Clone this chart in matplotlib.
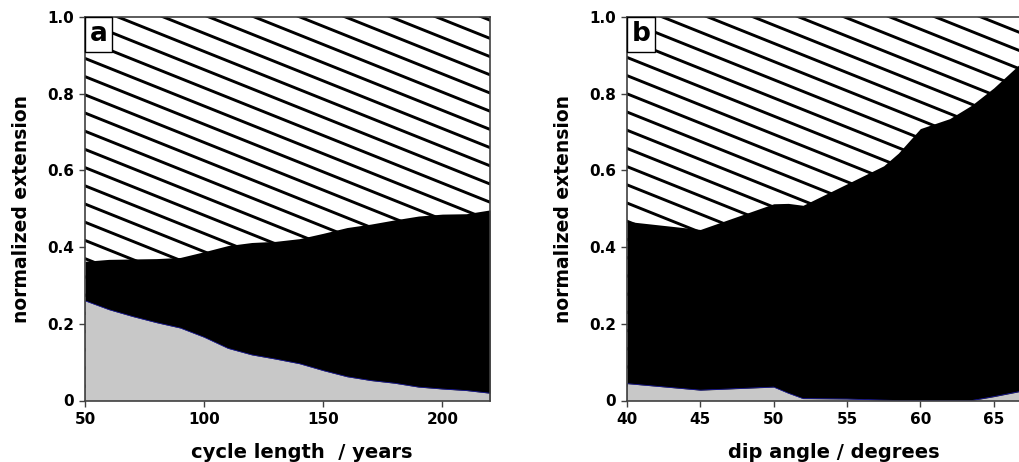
import numpy as np
import matplotlib
matplotlib.use("Agg")
import matplotlib.pyplot as plt
from matplotlib.collections import LineCollection

# Panel a: extension fractions versus cycle length
cycle_length = [50, 60, 70, 80, 90, 100, 110, 120, 130, 140, 150,
                160, 170, 180, 190, 200, 210, 220]
upper_a = [0.363, 0.368, 0.369, 0.370, 0.373, 0.388, 0.404, 0.412, 0.415,
           0.422, 0.436, 0.451, 0.460, 0.471, 0.481, 0.486, 0.487, 0.497]
lower_a = [0.260, 0.237, 0.219, 0.203, 0.189, 0.165, 0.136, 0.119, 0.108,
           0.096, 0.078, 0.062, 0.052, 0.045, 0.035, 0.030, 0.026, 0.019]

# Panel b: extension fractions versus dip angle
dip_angle = [40, 45, 50, 51, 52, 55, 57.5, 58.5, 60, 62, 63.5, 65, 67]
upper_b = [0.467, 0.446, 0.513, 0.514, 0.509, 0.565, 0.612, 0.645, 0.709,
           0.735, 0.770, 0.815, 0.885]
lower_b = [0.044, 0.027, 0.035, 0.019, 0.005, 0.004, 0.001, 0.0, 0.0,
           0.0, 0.0, 0.010, 0.025]

y_ticks = [0, 0.2, 0.4, 0.6, 0.8, 1.0]
y_ticklabels = ["0", "0.2", "0.4", "0.6", "0.8", "1.0"]
ticks_a = [50, 100, 150, 200]
ticks_b = [40, 45, 50, 55, 60, 65]

plt.rcParams["font.family"] = ["DejaVu Sans"]
plt.rcParams["font.weight"] = "bold"

W_PX, H_PX = 1020, 462
fig = plt.figure(figsize=(W_PX / 100, H_PX / 100), dpi=100)

SPINE = "#404040"
GRAY = "#c8c8c8"


def add_hatch(ax, w_px, h_px, phase_px, spacing_px=45.5, slope=0.40):
    """Diagonal hatch lines in axes-fraction space, with a fixed pixel slope."""
    segs = []
    for x0 in np.arange(phase_px - 1200, w_px + spacing_px, spacing_px):
        xa, xb = x0 - 50, x0 + 1200
        ya = 1 - slope * (xa - x0) / h_px
        yb = 1 - slope * (xb - x0) / h_px
        segs.append([(xa / w_px, ya), (xb / w_px, yb)])
    lc = LineCollection(segs, colors="black", linewidths=2.1,
                        transform=ax.transAxes, zorder=1)
    ax.add_collection(lc)


def panel(rect, x, upper, lower, xlim, xticks, xlabel, xlabel_pos, letter,
          phase_px, show_right=True):
    ax = fig.add_axes(rect)
    w_px = rect[2] * W_PX
    h_px = rect[3] * H_PX
    add_hatch(ax, w_px, h_px, phase_px)
    ax.fill_between(x, 0, upper, color="black", lw=0, zorder=2)
    ax.fill_between(x, 0, lower, color=GRAY, lw=0, zorder=3)
    ax.plot(x, lower, color="#2020b0", lw=0.5, zorder=4)
    ax.set_xlim(*xlim)
    ax.set_ylim(0, 1)
    ax.set_xticks(xticks)
    ax.set_xticklabels([str(t) for t in xticks])
    ax.set_yticks(y_ticks)
    ax.set_yticklabels(y_ticklabels)
    ax.tick_params(direction="out", length=4, width=1.0, color=SPINE,
                   labelsize=11, pad=4)
    for lab in ax.get_xticklabels() + ax.get_yticklabels():
        lab.set_fontweight("bold")
    for side, sp in ax.spines.items():
        sp.set_color(SPINE)
        sp.set_linewidth(1.2)
        sp.set_zorder(6)
    if not show_right:
        ax.spines["right"].set_visible(False)
    ax.set_xlabel(xlabel, fontsize=14, fontweight="bold")
    ax.xaxis.set_label_coords(xlabel_pos, -0.11)
    ax.set_ylabel("normalized extension", fontsize=13.5, fontweight="bold")
    ax.yaxis.set_label_coords(-54 / w_px, 0.5)
    fs = 19
    pad = 0.17
    ax.annotate(letter, xy=(0.0, 1.0), xycoords="axes fraction",
                xytext=(pad * fs, -pad * fs), textcoords="offset points",
                ha="left", va="top", fontsize=fs, fontweight="bold",
                zorder=10, annotation_clip=False,
                bbox=dict(boxstyle=f"square,pad={pad}", fc="white",
                          ec="black", lw=1.0))
    return ax


ax_a = panel([85 / W_PX, 61.5 / H_PX, 405 / W_PX, 383.5 / H_PX],
             cycle_length, upper_a, lower_a, (50, 220), ticks_a,
             "cycle length  / years", 0.536, "a", 4.5)
ax_b = panel([627 / W_PX, 61.5 / H_PX, 396 / W_PX, 383.5 / H_PX],
             dip_angle, upper_b, lower_b, (40, 67), ticks_b,
             "dip angle / degrees", 0.523, "b", 7, show_right=False)

fig.savefig("out.png", dpi=100)
